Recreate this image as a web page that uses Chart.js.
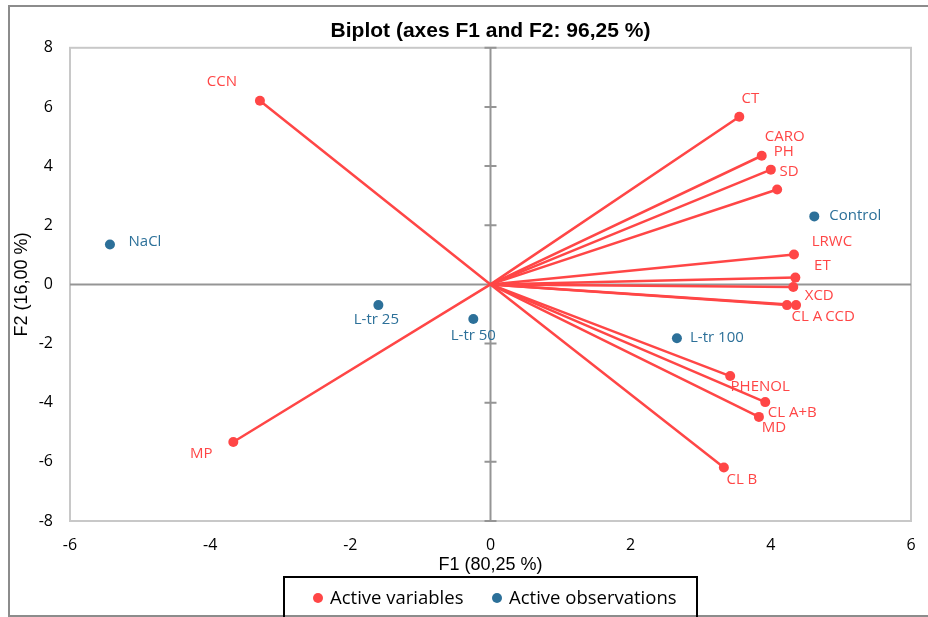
<!DOCTYPE html>
<html><head><meta charset="utf-8">
<script src="https://cdn.jsdelivr.net/npm/chart.js@4.4.0/dist/chart.umd.min.js"></script>
<style>html,body{margin:0;padding:0;background:#fff}#wrap{width:928px;height:617px}</style>
</head><body><div id="wrap"><canvas id="c" width="928" height="617"></canvas></div>
<script>
const variableNames = ['CCN','CT','CARO','PH','SD','LRWC','ET','XCD','CL A','CCD','PHENOL','CL A+B','MD','CL B','MP'];
const variableF1 = [-3.29, 3.55, 3.87, 4.00, 4.09, 4.33, 4.35, 4.32, 4.23, 4.36, 3.42, 3.92, 3.83, 3.33, -3.67];
const variableF2 = [ 6.21, 5.67, 4.35, 3.88, 3.21, 1.01, 0.23, -0.09, -0.70, -0.70, -3.10, -3.98, -4.48, -6.19, -5.33];
const observationNames = ['NaCl','Control','L-tr 25','L-tr 50','L-tr 100'];
const observationF1 = [-5.43, 4.62, -1.60, -0.245, 2.66];
const observationF2 = [ 1.35, 2.30, -0.70, -1.17, -1.82];
const xTicks = [-6,-4,-2,0,2,4,6];
const yTicks = [-8,-6,-4,-2,0,2,4,6,8];

// label placement offsets (pixels, relative to the point)
const variableLabelOffsets = [[-38,-19],[11,-18],[23,-19],[13,-18],[12,-18],[38,-13],[27,-12],[26,9],[20,12],[44,12],[30,11],[27,11],[15,11],[18,12],[-32,12]];
const observationLabelOffsets = [[35,-3],[41,-1],[-2,15],[0,17],[40,0]];

const RED = '#FF4646';
const BLUE = '#2C7099';
const LABEL_FONT = '15px "Open Sans"';

const biplotPlugin = {
  id: 'biplot',
  beforeDraw(chart) {
    const c = chart.ctx, a = chart.chartArea;
    c.save();
    c.fillStyle = '#fff';
    c.fillRect(0, 0, chart.width, chart.height);
    // outer frame
    c.strokeStyle = '#8C8C8C';
    c.lineWidth = 2;
    c.strokeRect(9, 6, chart.width + 10, 610);
    // plot frame
    c.strokeStyle = '#C8C8C8';
    c.lineWidth = 2;
    c.strokeRect(a.left, a.top, a.right - a.left, a.bottom - a.top);
    c.restore();
  },
  beforeDatasetsDraw(chart) {
    const c = chart.ctx, a = chart.chartArea;
    const xs = chart.scales.x, ys = chart.scales.y;
    const x0 = xs.getPixelForValue(0), y0 = ys.getPixelForValue(0);
    c.save();
    c.strokeStyle = '#959595';
    c.lineWidth = 2;
    c.beginPath();
    c.moveTo(a.left, y0); c.lineTo(a.right, y0);
    c.moveTo(x0, a.top); c.lineTo(x0, a.bottom);
    yTicks.forEach(v => { const py = ys.getPixelForValue(v); c.moveTo(x0 - 6, py); c.lineTo(x0 + 6, py); });
    c.stroke();
    // vectors
    c.strokeStyle = RED;
    c.lineWidth = 2.5;
    c.lineCap = 'round';
    const meta = chart.getDatasetMeta(0);
    meta.data.forEach(pt => {
      c.beginPath();
      c.moveTo(x0, y0);
      c.lineTo(pt.x, pt.y);
      c.stroke();
    });
    c.restore();
  },
  afterDatasetsDraw(chart) {
    const c = chart.ctx;
    c.save();
    c.font = LABEL_FONT;
    c.textAlign = 'center';
    c.textBaseline = 'middle';
    const m0 = chart.getDatasetMeta(0), m1 = chart.getDatasetMeta(1);
    c.fillStyle = RED;
    m0.data.forEach((pt, i) => {
      const o = variableLabelOffsets[i];
      c.fillText(variableNames[i], pt.x + o[0], pt.y + o[1]);
    });
    c.fillStyle = BLUE;
    m1.data.forEach((pt, i) => {
      const o = observationLabelOffsets[i];
      c.fillText(observationNames[i], pt.x + o[0], pt.y + o[1]);
    });
    c.restore();
  },
  afterDraw(chart) {
    const c = chart.ctx;
    c.save();
    // legend box
    c.strokeStyle = '#000';
    c.lineWidth = 2;
    c.strokeRect(284, 577, 413, 50);
    const yMid = 598;
    c.font = '18.5px "Open Sans"';
    c.textBaseline = 'middle';
    c.textAlign = 'left';
    const items = [[318, 330], [497, 509]];
    chart.data.datasets.forEach((ds, i) => {
      c.fillStyle = ds.backgroundColor;
      c.beginPath();
      c.arc(items[i][0], yMid, 5, 0, Math.PI * 2);
      c.fill();
      c.fillStyle = '#000';
      c.fillText(ds.label, items[i][1], yMid + 1);
    });
    c.restore();
  }
};

new Chart(document.getElementById('c'), {
  type: 'scatter',
  data: {
    datasets: [
      { label: 'Active variables', data: variableF1.map((x, i) => ({ x, y: variableF2[i] })),
        backgroundColor: RED, borderColor: RED, pointRadius: 5, pointHoverRadius: 5, borderWidth: 0 },
      { label: 'Active observations', data: observationF1.map((x, i) => ({ x, y: observationF2[i] })),
        backgroundColor: BLUE, borderColor: BLUE, pointRadius: 5, pointHoverRadius: 5, borderWidth: 0 }
    ]
  },
  options: {
    responsive: false,
    animation: false,
    devicePixelRatio: 1,
    events: [],
    layout: { padding: { left: 10, right: 17, top: 0.8, bottom: 36 } },
    plugins: {
      legend: { display: false },
      tooltip: { enabled: false },
      title: {
        display: true, fullSize: false,
        text: 'Biplot (axes F1 and F2: 96,25 %)',
        color: '#000',
        font: { family: '"Liberation Sans", Arial, sans-serif', size: 21, weight: 'bold', lineHeight: 1.2 },
        padding: { top: 17.4, bottom: 4.4 }
      }
    },
    scales: {
      x: {
        type: 'linear', min: -6, max: 6,
        afterBuildTicks: s => { s.ticks = xTicks.map(v => ({ value: v })); },
        afterFit: s => { s.height = 60; s.paddingLeft = 0; s.paddingRight = 0; },
        grid: { display: false, drawTicks: false },
        border: { display: false },
        ticks: { padding: 15, color: '#000', font: { family: '"Open Sans"', size: 16 } },
        title: { display: true, text: 'F1 (80,25 %)', color: '#000',
          font: { family: '"Liberation Sans", Arial, sans-serif', size: 18, lineHeight: 1.2 },
          padding: { top: 5, bottom: 5 } }
      },
      y: {
        type: 'linear', min: -8, max: 8,
        afterBuildTicks: s => { s.ticks = yTicks.map(v => ({ value: v })); },
        afterFit: s => { s.width = 60; },
        grid: { display: false, drawTicks: false },
        border: { display: false },
        ticks: { padding: 17, color: '#000', font: { family: '"Open Sans"', size: 16 } },
        title: { display: true, text: 'F2 (16,00 %)', color: '#000',
          font: { family: '"Liberation Sans", Arial, sans-serif', size: 18, lineHeight: 1.2 },
          padding: { top: 1, bottom: 1 } }
      }
    }
  },
  plugins: [biplotPlugin]
});
</script>
</body></html>
